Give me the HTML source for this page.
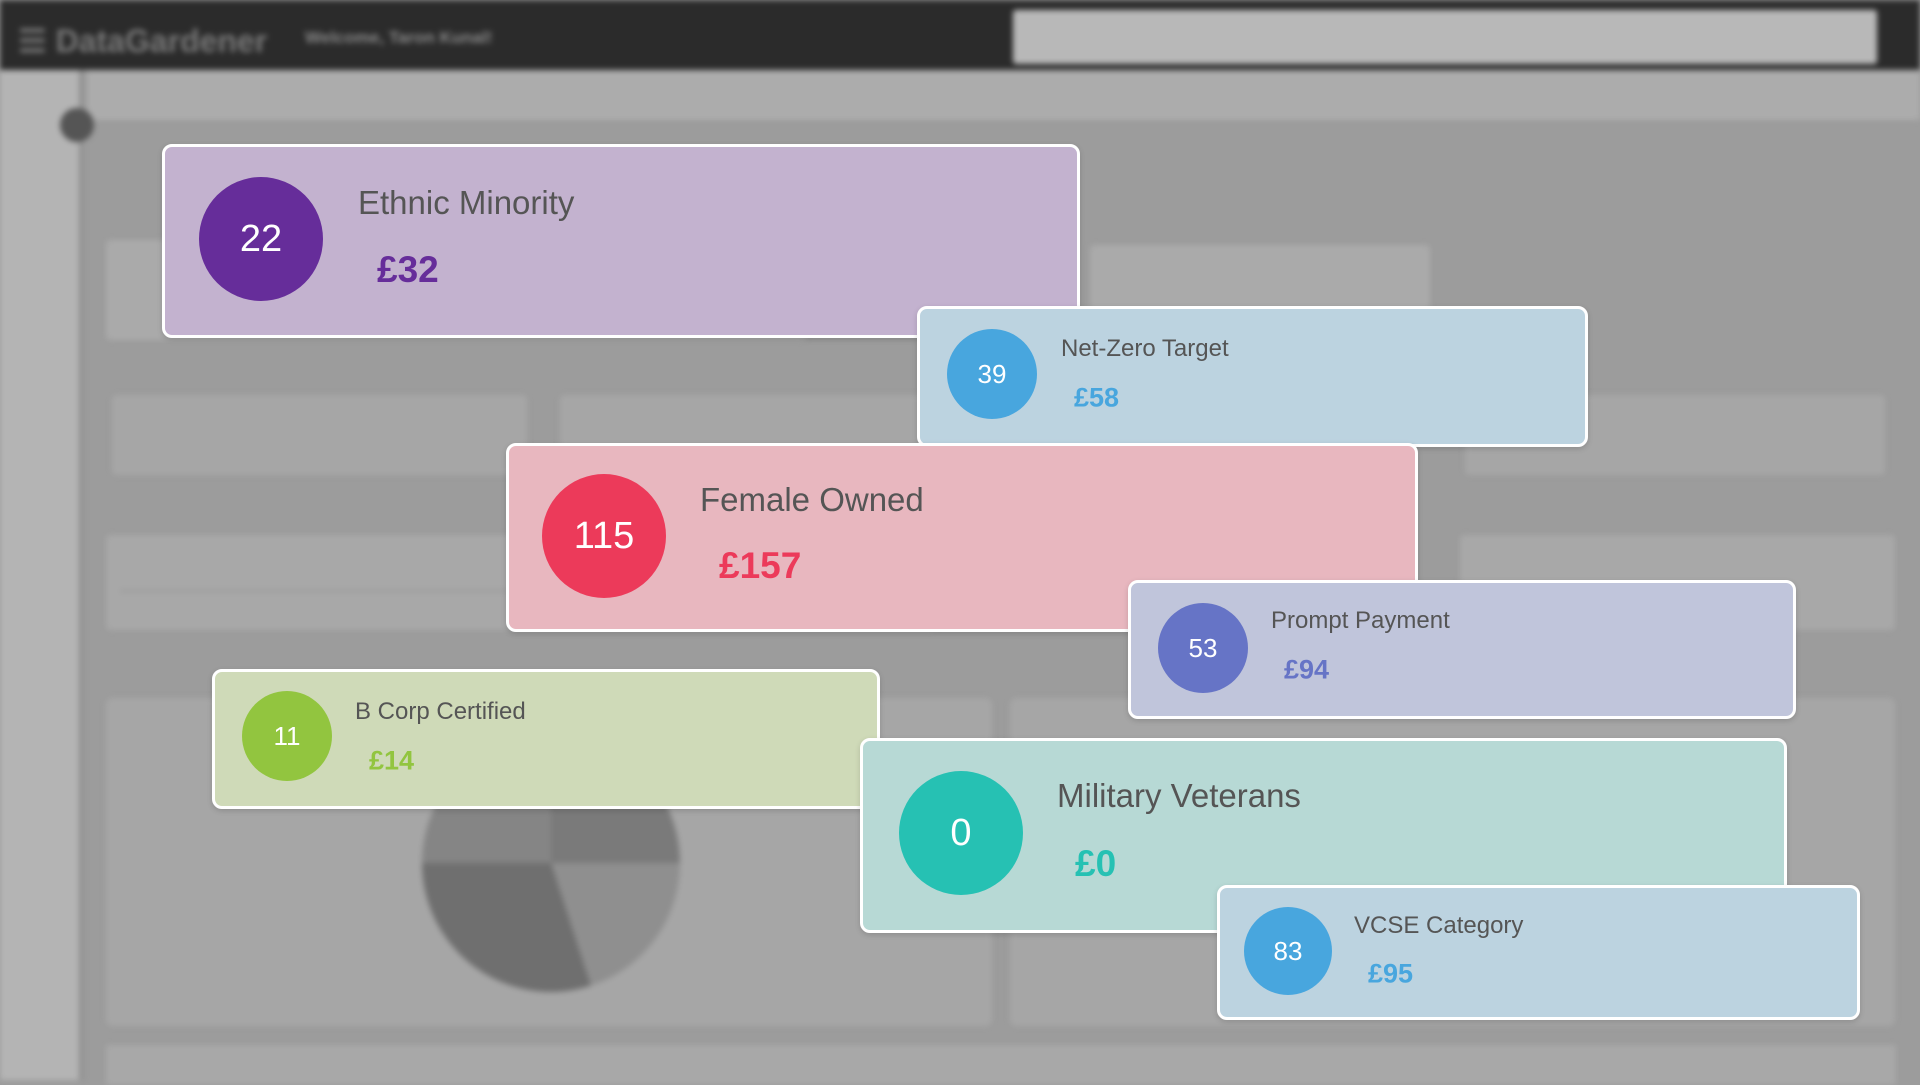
<!DOCTYPE html>
<html><head><meta charset="utf-8"><style>
*{box-sizing:border-box;margin:0;padding:0}
body{width:1920px;height:1080px;overflow:hidden;background:#9c9c9c;font-family:"Liberation Sans",sans-serif;position:relative}
.bg{position:absolute;inset:0;filter:blur(3px)}
.bg div{position:absolute}
.card{position:absolute;border:3px solid #fff;border-radius:10px;box-shadow:0 2px 6px rgba(0,0,0,.15)}
.c{position:absolute;border-radius:50%;color:#fff;display:flex;align-items:center;justify-content:center}
.t{position:absolute;color:#555;white-space:nowrap;transform:translateY(-50%)}
.v{position:absolute;font-weight:bold;white-space:nowrap;transform:translateY(-50%)}
</style></head><body>
<div class="bg">
 <div style="left:0;top:0;width:1920px;height:70px;background:#2b2b2b"></div>
 <div style="left:18px;top:22px;color:#777;font-size:32px;font-weight:bold">☰ DataGardener</div>
 <div style="left:305px;top:28px;color:#888;font-size:17px;font-weight:bold">Welcome, Taron Kunal!</div>
 <div style="left:1013px;top:10px;width:864px;height:54px;background:#b8b8b8;border-radius:3px"></div>
 <div style="left:0;top:70px;width:83px;height:1010px;background:#b4b4b4;border-right:4px solid #8e8e8e"></div>
 <div style="left:87px;top:70px;width:1833px;height:50px;background:#acacac"></div>
 <div style="left:60px;top:108px;width:34px;height:34px;border-radius:50%;background:#555"></div>
 <div style="left:106px;top:240px;width:700px;height:100px;background:#aaa;border-radius:4px"></div>
 <div style="left:1090px;top:245px;width:340px;height:80px;background:#aaa;border-radius:4px"></div>
 <div style="left:112px;top:395px;width:415px;height:80px;background:#a6a6a6;border-radius:4px"></div>
 <div style="left:560px;top:395px;width:400px;height:80px;background:#a6a6a6;border-radius:4px"></div>
 <div style="left:1465px;top:395px;width:420px;height:80px;background:#a6a6a6;border-radius:4px"></div>
 <div style="left:106px;top:535px;width:830px;height:95px;background:#a8a8a8;border-radius:4px"></div>
 <div style="left:1460px;top:535px;width:435px;height:95px;background:#a8a8a8;border-radius:4px"></div>
 <div style="left:106px;top:698px;width:886px;height:328px;background:#a6a6a6;border-radius:6px"></div>
 <div style="left:1010px;top:698px;width:885px;height:328px;background:#a6a6a6;border-radius:6px"></div>
 <div style="left:422px;top:734px;width:258px;height:258px;border-radius:50%;background:conic-gradient(#7a7a7a 0 25%,#8f8f8f 25% 45%,#6f6f6f 45% 75%,#858585 75%)"></div>
 <div style="left:106px;top:1045px;width:1790px;height:40px;background:#a8a8a8"></div>
 <div style="left:120px;top:590px;width:900px;height:2px;background:#999"></div>
</div>

<div class="card" style="left:162px;top:144px;width:918px;height:194px;background:#c3b2cf">
 <div class="c" style="left:34px;top:30px;width:124px;height:124px;background:#662d9a;font-size:38px">22</div>
 <div class="t" style="left:193px;top:56px;font-size:33px">Ethnic Minority</div>
 <div class="v" style="left:212px;top:123px;font-size:37px;color:#662d9a">£32</div>
</div>
<div class="card" style="left:917px;top:306px;width:671px;height:141px;background:#bcd3e0">
 <div class="c" style="left:27px;top:20px;width:90px;height:90px;background:#48a6de;font-size:26px">39</div>
 <div class="t" style="left:141px;top:40px;font-size:24px">Net-Zero Target</div>
 <div class="v" style="left:154px;top:89px;font-size:27px;color:#48a6de">£58</div>
</div>
<div class="card" style="left:506px;top:443px;width:912px;height:189px;background:#e8b7bf">
 <div class="c" style="left:33px;top:28px;width:124px;height:124px;background:#ec3a5a;font-size:38px">115</div>
 <div class="t" style="left:191px;top:54px;font-size:33px">Female Owned</div>
 <div class="v" style="left:210px;top:120px;font-size:37px;color:#ec3a5a">£157</div>
</div>
<div class="card" style="left:1128px;top:580px;width:668px;height:139px;background:#c0c5db">
 <div class="c" style="left:27px;top:20px;width:90px;height:90px;background:#6674c6;font-size:26px">53</div>
 <div class="t" style="left:140px;top:38px;font-size:24px">Prompt Payment</div>
 <div class="v" style="left:153px;top:87px;font-size:27px;color:#6674c6">£94</div>
</div>
<div class="card" style="left:212px;top:669px;width:668px;height:140px;background:#cfdab8">
 <div class="c" style="left:27px;top:19px;width:90px;height:90px;background:#92c53f;font-size:26px">11</div>
 <div class="t" style="left:140px;top:40px;font-size:24px">B Corp Certified</div>
 <div class="v" style="left:154px;top:89px;font-size:27px;color:#92c53f">£14</div>
</div>
<div class="card" style="left:860px;top:738px;width:927px;height:195px;background:#b7d9d5">
 <div class="c" style="left:36px;top:30px;width:124px;height:124px;background:#26c1b3;font-size:38px">0</div>
 <div class="t" style="left:194px;top:55px;font-size:33px">Military Veterans</div>
 <div class="v" style="left:212px;top:123px;font-size:37px;color:#26c1b3">£0</div>
</div>
<div class="card" style="left:1217px;top:885px;width:643px;height:135px;background:#bcd3e0">
 <div class="c" style="left:24px;top:19px;width:88px;height:88px;background:#48a6de;font-size:26px">83</div>
 <div class="t" style="left:134px;top:38px;font-size:24px">VCSE Category</div>
 <div class="v" style="left:148px;top:86px;font-size:27px;color:#48a6de">£95</div>
</div>
</body></html>
